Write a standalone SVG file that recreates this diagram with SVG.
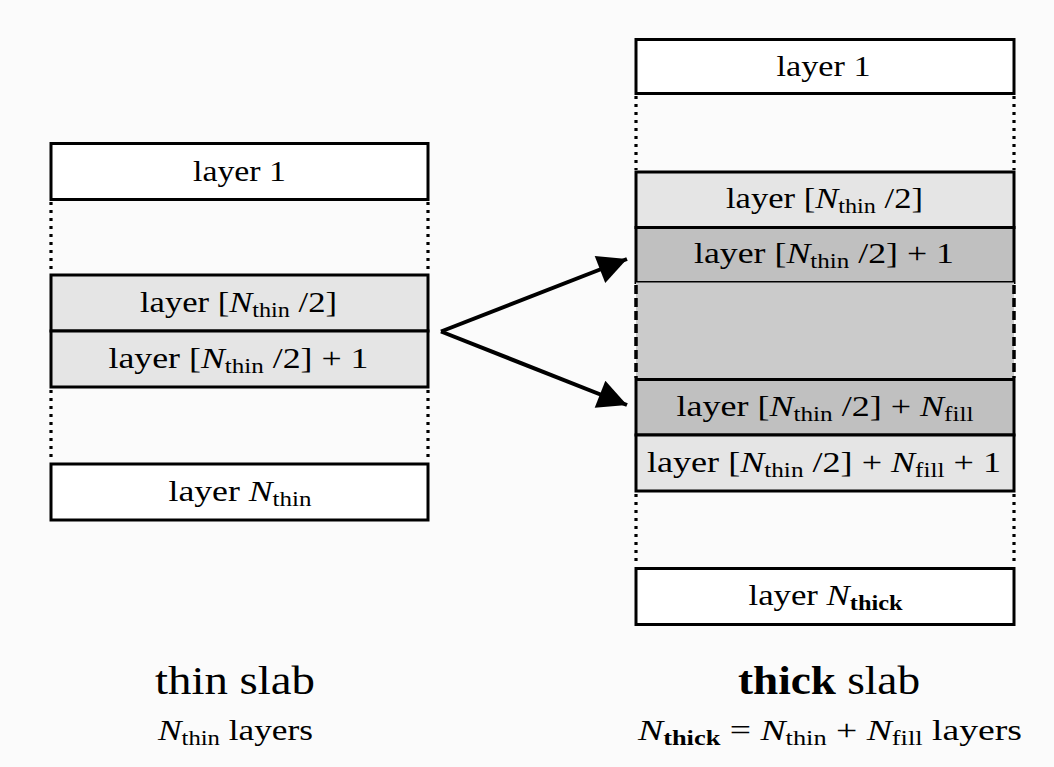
<svg xmlns="http://www.w3.org/2000/svg" width="1054" height="767" viewBox="0 0 1054 767">
<defs>
<style>
.t{font-family:"Liberation Serif","DejaVu Serif",serif;font-size:30px;fill:#000;text-anchor:middle}
.big{font-size:40px}
.i{font-style:italic}
.s{font-size:21px}
.b{font-weight:bold}
.box{stroke:#000;stroke-width:3}
.w{fill:#fff}
.lg{fill:#e5e5e5}
.dg{fill:#c0c0c0}
.dot{stroke:#000;stroke-width:3.2;stroke-dasharray:3 5;fill:none}
.dash{stroke:#000;stroke-width:3.5;stroke-dasharray:9 4;fill:none}
.arr{stroke:#000;stroke-width:4;fill:none;marker-end:url(#ah)}
</style>
<marker id="ah" viewBox="0 0 10 10" refX="10" refY="5" markerWidth="36" markerHeight="29" markerUnits="userSpaceOnUse" orient="auto">
<path d="M0,0 L10,5 L0,10 z" fill="#000"/>
</marker>
</defs>
<rect width="1054" height="767" fill="#fbfbfb"/>

<g id="thin-slab">
<g id="thin-layer1"><rect class="box w" x="51" y="143.5" width="377" height="56"/><text class="t" x="239.5" y="181" textLength="93" lengthAdjust="spacingAndGlyphs">layer 1</text></g>
<g id="thin-gap1"><line class="dot" x1="51" y1="202" x2="51" y2="274"/><line class="dot" x1="428" y1="202" x2="428" y2="274"/></g>
<g id="thin-half"><rect class="box lg" x="51" y="275" width="377" height="56"/><text class="t" x="238.5" y="312" textLength="197" lengthAdjust="spacingAndGlyphs">layer [<tspan class="i">N</tspan><tspan class="s" dy="5">thin</tspan><tspan dy="-5"> /2]</tspan></text></g>
<g id="thin-half1"><rect class="box lg" x="51" y="331" width="377" height="56"/><text class="t" x="238.5" y="368" textLength="260" lengthAdjust="spacingAndGlyphs">layer [<tspan class="i">N</tspan><tspan class="s" dy="5">thin</tspan><tspan dy="-5"> /2] + 1</tspan></text></g>
<g id="thin-gap2"><line class="dot" x1="51" y1="390" x2="51" y2="462"/><line class="dot" x1="428" y1="390" x2="428" y2="462"/></g>
<g id="thin-last"><rect class="box w" x="51" y="464" width="377" height="56"/><text class="t" x="240" y="501" textLength="143" lengthAdjust="spacingAndGlyphs">layer <tspan class="i">N</tspan><tspan class="s" dy="5">thin</tspan></text></g>
<g id="thin-label"><text class="t big" x="235" y="694" textLength="160" lengthAdjust="spacingAndGlyphs">thin slab</text><text class="t" x="235.5" y="740" textLength="155" lengthAdjust="spacingAndGlyphs"><tspan class="i">N</tspan><tspan class="s" dy="5">thin</tspan><tspan dy="-5"> layers</tspan></text></g>
</g>

<g id="thick-slab">
<g id="thick-layer1"><rect class="box w" x="636" y="39.5" width="378" height="54"/><text class="t" x="823.5" y="76" textLength="94" lengthAdjust="spacingAndGlyphs">layer 1</text></g>
<g id="thick-gap1"><line class="dot" x1="636" y1="96" x2="636" y2="170"/><line class="dot" x1="1014" y1="96" x2="1014" y2="170"/></g>
<g id="thick-half"><rect class="box lg" x="636" y="172" width="378" height="55.5"/><text class="t" x="824.5" y="208" textLength="197" lengthAdjust="spacingAndGlyphs">layer [<tspan class="i">N</tspan><tspan class="s" dy="5">thin</tspan><tspan dy="-5"> /2]</tspan></text></g>
<g id="thick-half1"><rect class="box dg" x="636" y="227.5" width="378" height="55"/><text class="t" x="824" y="263" textLength="260" lengthAdjust="spacingAndGlyphs">layer [<tspan class="i">N</tspan><tspan class="s" dy="5">thin</tspan><tspan dy="-5"> /2] + 1</tspan></text></g>
<g id="thick-fill"><rect x="636" y="282.5" width="378" height="97" fill="#cbcbcb"/><line class="dash" x1="636" y1="285" x2="636" y2="378"/><line class="dash" x1="1014" y1="285" x2="1014" y2="378"/></g>
<g id="thick-fillN"><rect class="box dg" x="636" y="379.5" width="378" height="55.5"/><text class="t" x="825" y="416" textLength="297" lengthAdjust="spacingAndGlyphs">layer [<tspan class="i">N</tspan><tspan class="s" dy="5">thin</tspan><tspan dy="-5"> /2] + </tspan><tspan class="i">N</tspan><tspan class="s" dy="5">fill</tspan></text></g>
<g id="thick-fillN1"><rect class="box lg" x="636" y="435" width="378" height="56"/><text class="t" x="824" y="472" textLength="354" lengthAdjust="spacingAndGlyphs">layer [<tspan class="i">N</tspan><tspan class="s" dy="5">thin</tspan><tspan dy="-5"> /2] + </tspan><tspan class="i">N</tspan><tspan class="s" dy="5">fill</tspan><tspan dy="-5"> + 1</tspan></text></g>
<g id="thick-gap2"><line class="dot" x1="636" y1="494" x2="636" y2="566"/><line class="dot" x1="1014" y1="494" x2="1014" y2="566"/></g>
<g id="thick-last"><rect class="box w" x="636" y="568.5" width="378" height="56"/><text class="t" x="825.5" y="605" textLength="154" lengthAdjust="spacingAndGlyphs">layer <tspan class="i">N</tspan><tspan class="s b" dy="5">thick</tspan></text></g>
<g id="thick-label"><text class="t big" x="829" y="694" textLength="182" lengthAdjust="spacingAndGlyphs"><tspan class="b">thick</tspan> slab</text><text class="t" x="830" y="740" textLength="384" lengthAdjust="spacingAndGlyphs"><tspan class="i">N</tspan><tspan class="s b" dy="5">thick</tspan><tspan dy="-5"> =  </tspan><tspan class="i">N</tspan><tspan class="s" dy="5">thin</tspan><tspan dy="-5"> + </tspan><tspan class="i">N</tspan><tspan class="s" dy="5">fill</tspan><tspan dy="-5"> layers</tspan></text></g>
</g>

<g id="connectors">
<line class="arr" x1="441" y1="331.5" x2="627" y2="259"/>
<line class="arr" x1="441" y1="331.5" x2="627" y2="405"/>
</g>
</svg>
